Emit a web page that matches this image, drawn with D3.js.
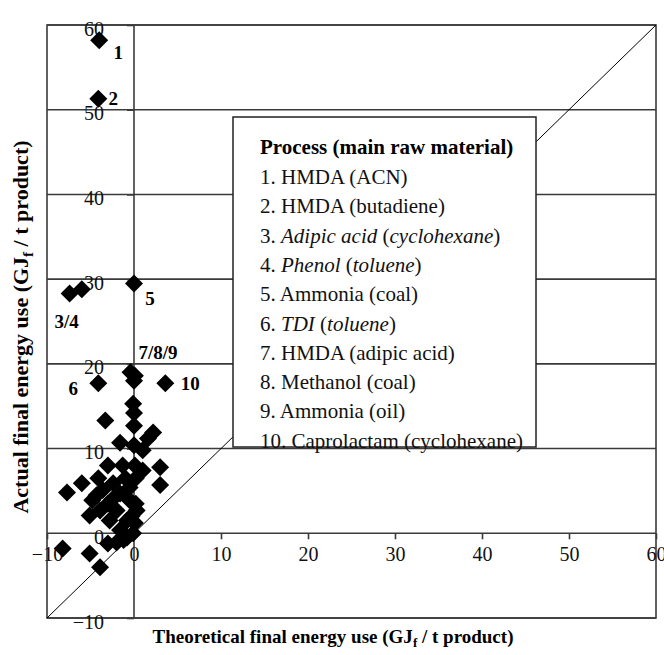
<!DOCTYPE html>
<html>
<head>
<meta charset="utf-8">
<script src="https://cdn.jsdelivr.net/npm/d3@7"></script>
<style>
  body { margin: 0; background: #fff; }
  svg text { font-family: "Liberation Serif", "Times New Roman", serif; }
</style>
</head>
<body>
<div id="chart"></div>
<script>
// theoretical (x) vs actual (y) final energy use, GJf / t product
const theoretical = [-4.0, -4.1, -7.4, -6.0, 0.0, -0.4, 0.1, 0.0, -4.1, 3.6,
  -0.1, 0.0, -3.3, 0.0, 2.2, 1.6, -1.6, 0.0, 1.0, -3.0, -1.3, 0.1, 3.0, 1.0,
  -6.0, -7.7, -4.1, 3.0, -4.8, -3.6, -2.4, -1.6, -3.9, -2.0, -0.5, -0.5, 0.3,
  -5.1, -2.8, -0.8, 0.1, -1.6, -0.1, -0.8, -2.0, -3.0, -1.2, -8.2, -5.1, -3.9,
  -4.3, -3.0, -1.0, 0.2, -2.5, 0.2, -0.3];
const actual = [58.2, 51.3, 28.3, 28.8, 29.5, 19.0, 18.6, 18.0, 17.7, 17.7,
  15.3, 14.2, 13.3, 12.7, 11.9, 11.2, 10.7, 10.4, 9.8, 8.0, 8.0, 8.0, 7.8, 7.4,
  5.9, 4.8, 6.5, 5.7, 3.9, 5.1, 5.9, 4.7, 2.7, 2.7, 3.9, 5.4, 2.7,
  2.1, 1.5, 1.5, 1.2, 0.4, 0.0, -0.5, -1.1, -1.2, -0.8, -1.8, -2.4, -4.0,
  4.5, 3.5, 6.5, 6.5, 4.0, 3.5, 2.0];

// labelled points: index into the arrays above, and the tag shown
const tagIndex = [0, 1, 2, 4, 7, 8, 9];
const tagText = ["1", "2", "3/4", "5", "7/8/9", "6", "10"];

const legendTitle = "Process (main raw material)";
const legendItems = [
  [["1. HMDA (ACN)", false]],
  [["2. HMDA (butadiene)", false]],
  [["3. ", false], ["Adipic acid", true], [" (", false], ["cyclohexane", true], [")", false]],
  [["4. ", false], ["Phenol", true], [" (", false], ["toluene", true], [")", false]],
  [["5. Ammonia (coal)", false]],
  [["6. ", false], ["TDI", true], [" (", false], ["toluene", true], [")", false]],
  [["7. HMDA (adipic acid)", false]],
  [["8. Methanol (coal)", false]],
  [["9. Ammonia (oil)", false]],
  [["10. Caprolactam (cyclohexane)", false]]
];

const ticks = [-10, 0, 10, 20, 30, 40, 50, 60];

const width = 664;
const height = 655;
const margin = {left: 47, right: 8, top: 25, bottom: 37};

const x = d3.scaleLinear().domain([-10, 60]).range([margin.left, width - margin.right]);
const y = d3.scaleLinear().domain([-10, 60]).range([height - margin.bottom, margin.top]);

const svg = d3.select("#chart").append("svg")
  .attr("width", width)
  .attr("height", height);

const lineColor = "#3a3a3a";

// horizontal grid lines
svg.append("g").selectAll("line")
  .data(ticks)
  .enter().append("line")
    .attr("x1", x(-10)).attr("x2", x(60))
    .attr("y1", d => y(d)).attr("y2", d => y(d))
    .attr("stroke", lineColor).attr("stroke-width", 1.6);

// frame + vertical line at zero
svg.append("rect")
  .attr("x", x(-10)).attr("y", y(60))
  .attr("width", x(60) - x(-10)).attr("height", y(-10) - y(60))
  .attr("fill", "none").attr("stroke", lineColor).attr("stroke-width", 1.6);

svg.append("line")
  .attr("x1", x(0)).attr("x2", x(0))
  .attr("y1", y(60)).attr("y2", y(-10))
  .attr("stroke", lineColor).attr("stroke-width", 1.6);

// x axis on y = 0
const xAxis = svg.append("g")
  .attr("transform", `translate(0,${y(0)})`)
  .call(d3.axisBottom(x).tickValues(ticks).tickSize(6).tickPadding(8).tickFormat(d3.format("d")));
xAxis.select(".domain").remove();
xAxis.selectAll("line").attr("stroke", lineColor).attr("stroke-width", 1.6);
xAxis.selectAll("text")
  .attr("font-size", "20px").attr("fill", "#111")
  .style("font-family", "'Liberation Serif', serif");

// y axis on x = 0
const yAxis = svg.append("g")
  .attr("transform", `translate(${x(0)},0)`)
  .call(d3.axisLeft(y).tickValues(ticks).tickSize(7).tickPadding(23).tickFormat(d3.format("d")));
yAxis.select(".domain").remove();
yAxis.selectAll("line").attr("stroke", lineColor).attr("stroke-width", 1.6);
yAxis.selectAll("text")
  .attr("font-size", "20px").attr("fill", "#111").attr("dy", "0.5em")
  .style("font-family", "'Liberation Serif', serif");

// diagonal y = x
svg.append("line")
  .attr("x1", x(-10)).attr("y1", y(-10))
  .attr("x2", x(60)).attr("y2", y(60))
  .attr("stroke", "#000").attr("stroke-width", 1);

// diamonds
const pts = theoretical.map((d, i) => ({t: d, a: actual[i]}));
svg.append("g").selectAll("path")
  .data(pts)
  .enter().append("path")
    .attr("d", "M0,-9L9,0L0,9L-9,0Z")
    .attr("transform", d => `translate(${x(d.t)},${y(d.a)})`)
    .attr("fill", "#000");

// point tags
const tagOffset = [[19, 12], [15, 0], [-3, 28], [16, 15], [24, -28], [-25, 5], [25, 0]];
svg.append("g").selectAll("text")
  .data(tagIndex)
  .enter().append("text")
    .attr("x", (d, i) => x(theoretical[d]) + tagOffset[i][0])
    .attr("y", (d, i) => y(actual[d]) + tagOffset[i][1])
    .attr("dy", "0.35em")
    .attr("text-anchor", "middle")
    .attr("font-size", "19px")
    .attr("font-weight", "bold")
    .text((d, i) => tagText[i]);

// legend box
const lg = svg.append("g").attr("transform", "translate(233,117)");
lg.append("rect")
  .attr("width", 303).attr("height", 330)
  .attr("fill", "#fff").attr("stroke", "#222").attr("stroke-width", 1.5);
lg.append("text")
  .attr("x", 27).attr("y", 37)
  .attr("font-size", "21px").attr("font-weight", "bold")
  .text(legendTitle);
legendItems.forEach((parts, i) => {
  const t = lg.append("text")
    .attr("x", 27).attr("y", 67 + i * 29.3)
    .attr("font-size", "21px").attr("fill", "#111");
  parts.forEach(p => {
    t.append("tspan").attr("font-style", p[1] ? "italic" : "normal").text(p[0]);
  });
});

// axis titles
const xt = svg.append("text")
  .attr("x", 333).attr("y", 643)
  .attr("text-anchor", "middle")
  .attr("font-size", "19px").attr("font-weight", "bold");
xt.append("tspan").text("Theoretical final energy use (GJ");
xt.append("tspan").attr("font-size", "13px").attr("dy", 4).text("f");
xt.append("tspan").attr("dy", -4).text(" / t product)");

const yt = svg.append("text")
  .attr("transform", "translate(28,327) rotate(-90)")
  .attr("text-anchor", "middle")
  .attr("font-size", "22px").attr("font-weight", "bold");
yt.append("tspan").text("Actual final energy use (GJ");
yt.append("tspan").attr("font-size", "15px").attr("dy", 5).text("f");
yt.append("tspan").attr("dy", -5).text(" / t product)");
</script>
</body>
</html>
